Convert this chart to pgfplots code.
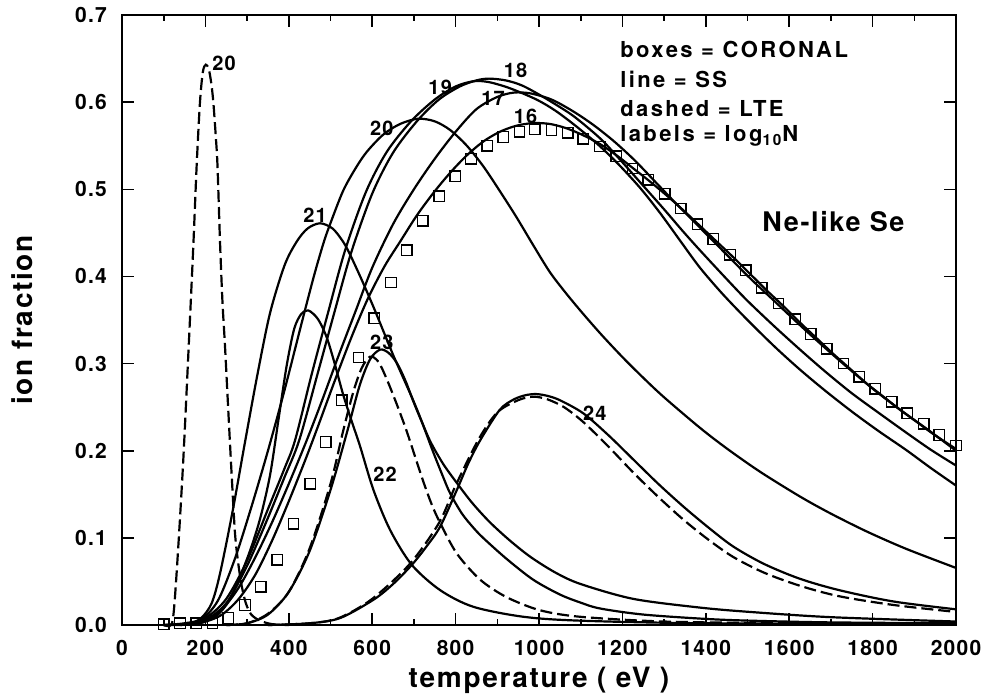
\documentclass[border=0pt]{standalone}
\usepackage{fontspec}
\setmainfont{TeX Gyre Heros}[LetterSpace=6]
\newfontfamily\wide{TeX Gyre Heros}[LetterSpace=11]
\usepackage{pgfplots}
\pgfplotsset{compat=1.18}

\begin{document}
\begin{tikzpicture}[font=\bfseries]
\begin{axis}[
  at={(61pt,34pt)}, anchor=south west,
  scale only axis, width=417pt, height=305pt,
  xmin=0, xmax=2000, ymin=0, ymax=0.7,
  xtick={0,200,400,600,800,1000,1200,1400,1600,1800,2000},
  minor x tick num=1,
  ytick={0,0.1,0.2,0.3,0.4,0.5,0.6,0.7},
  /pgf/number format/assume math mode=true,
  yticklabel style={/pgf/number format/fixed, /pgf/number format/fixed zerofill,
                    /pgf/number format/precision=1, xshift=-4pt},
  xticklabel style={/pgf/number format/1000 sep={}, yshift=-4pt},
  tick label style={font=\fontsize{10.5}{12}\selectfont\bfseries},
  major tick length=6pt, minor tick length=3pt,
  tick style={line width=0.8pt, black},
  axis line style={line width=0.9pt},
  xlabel={temperature ( eV )}, ylabel={ion fraction},
  label style={font=\fontsize{14}{16}\selectfont\bfseries},
  xlabel style={at={(axis description cs:0.5,0)}, anchor=center, yshift=-27.5pt},
  ylabel style={at={(axis description cs:-0.12,0.5)}, anchor=center},
  clip=false,
  every axis plot/.append style={line width=1.1pt, black},
]
% coronal
\addplot[only marks, mark=square, mark size=2.6pt, mark options={line width=0.65pt}] coordinates {
 (100,0.001) (139,0.002) (178,0.002) (217,0.002) (255,0.008) (295,0.023) (333,0.044)
 (372,0.075) (411,0.116) (451,0.162) (489,0.210) (527,0.258) (567,0.307) (605,0.352)
 (645,0.393) (683,0.430) (721,0.464) (761,0.492) (799,0.515) (837,0.535) (876,0.550)
 (914,0.560) (953,0.566) (990,0.569) (1030,0.568) (1069,0.565) (1106,0.558) (1146,0.549)
 (1185,0.538) (1224,0.524) (1262,0.511) (1302,0.495) (1340,0.478) (1380,0.460) (1418,0.443)
 (1458,0.425) (1496,0.407) (1534,0.387) (1574,0.369) (1614,0.351) (1652,0.334) (1690,0.317)
 (1730,0.300) (1768,0.285) (1806,0.271) (1846,0.256) (1883,0.243) (1923,0.231) (1960,0.218)
 (2000,0.206) };
% SS 16
\addplot[smooth] coordinates {
 (100,0) (150,0.001) (200,0.004) (240,0.012) (280,0.03) (320,0.058) (360,0.097) (400,0.142)
 (440,0.19) (470,0.228) (510,0.28) (550,0.33) (590,0.375) (630,0.412) (667,0.440) (707,0.47)
 (747,0.496) (787,0.519) (827,0.539) (867,0.555) (906,0.566) (946,0.573) (986,0.576)
 (1026,0.575) (1066,0.570) (1106,0.562) (1146,0.552) (1186,0.539) (1226,0.524) (1266,0.509)
 (1306,0.493) (1346,0.476) (1386,0.458) (1426,0.440) (1466,0.422) (1506,0.403) (1546,0.384)
 (1586,0.366) (1626,0.347) (1666,0.329) (1706,0.311) (1746,0.294) (1786,0.277) (1826,0.262)
 (1866,0.247) (1906,0.233) (1946,0.219) (2000,0.202) };
% SS 17
\addplot[smooth] coordinates {
 (100,0) (150,0.001) (200,0.006) (240,0.018) (280,0.043) (320,0.078) (360,0.118) (400,0.162)
 (443,0.212) (480,0.258) (520,0.31) (560,0.36) (600,0.41) (650,0.46) (700,0.5) (750,0.535)
 (800,0.566) (850,0.592) (900,0.606) (940,0.611) (980,0.610) (1030,0.603) (1080,0.590)
 (1130,0.574) (1180,0.555) (1230,0.533) (1280,0.508) (1330,0.483) (1386,0.456) (1450,0.425)
 (1506,0.398) (1566,0.371) (1626,0.344) (1686,0.318) (1746,0.293) (1806,0.269) (1866,0.247)
 (1933,0.224) (2000,0.200) };
% SS 18
\addplot[smooth] coordinates {
 (100,0) (150,0.001) (200,0.006) (250,0.025) (300,0.068) (350,0.123) (390,0.17) (425,0.212)
 (470,0.29) (510,0.36) (550,0.428) (600,0.495) (650,0.542) (707,0.578) (760,0.603) (810,0.618)
 (850,0.625) (880,0.627) (920,0.625) (960,0.619) (1010,0.606) (1074,0.587) (1114,0.572)
 (1154,0.555) (1200,0.531) (1250,0.504) (1300,0.477) (1343,0.453) (1386,0.43) (1450,0.397)
 (1500,0.372) (1566,0.342) (1626,0.316) (1686,0.291) (1750,0.266) (1813,0.244) (1880,0.221)
 (1940,0.201) (2000,0.183) };
% SS 19
\addplot[smooth] coordinates {
 (100,0) (150,0.002) (200,0.008) (250,0.03) (300,0.074) (350,0.133) (390,0.18) (415,0.212)
 (455,0.288) (495,0.36) (535,0.43) (585,0.497) (635,0.543) (693,0.578) (750,0.603) (800,0.618)
 (843,0.624) (880,0.623) (930,0.616) (994,0.603) (1040,0.590) (1090,0.572) (1140,0.552)
 (1186,0.531) (1240,0.503) (1290,0.473) (1340,0.44) (1386,0.41) (1440,0.38) (1500,0.35)
 (1566,0.319) (1626,0.293) (1686,0.269) (1750,0.245) (1813,0.223) (1880,0.201) (1940,0.18)
 (2000,0.160) };
% SS 20
\addplot[smooth] coordinates {
 (120,0) (150,0.001) (190,0.006) (230,0.028) (270,0.075) (310,0.135) (350,0.2) (390,0.27)
 (430,0.345) (460,0.4) (483,0.438) (499,0.46) (530,0.498) (560,0.524) (587,0.543) (627,0.563)
 (667,0.575) (710,0.581) (750,0.578) (787,0.568) (827,0.55) (867,0.526) (906,0.498) (946,0.468)
 (986,0.436) (1026,0.405) (1066,0.380) (1106,0.357) (1150,0.333) (1200,0.3075) (1250,0.2837)
 (1300,0.2613) (1386,0.2263) (1450,0.2027) (1530,0.1759) (1626,0.1474) (1700,0.1278)
 (1786,0.1073) (1880,0.0875) (2000,0.0655) };
% SS 21
\addplot[smooth] coordinates {
 (130,0) (160,0.001) (190,0.008) (215,0.025) (235,0.059) (265,0.13) (295,0.21) (325,0.288)
 (355,0.358) (390,0.413) (419,0.44) (445,0.455) (475,0.461) (505,0.455) (530,0.44) (547,0.425)
 (575,0.396) (603,0.365) (627,0.337) (651,0.309) (675,0.283) (699,0.257) (720,0.232) (745,0.2)
 (770,0.17) (787,0.151) (815,0.128) (842,0.112) (866,0.100) (922,0.076) (986,0.052)
 (1050,0.035) (1098,0.026) (1146,0.019) (1250,0.012) (1400,0.007) (1506,0.005) (1700,0.003)
 (2000,0.002) };
% SS 22
\addplot[smooth] coordinates {
 (140,0) (170,0.001) (195,0.003) (230,0.012) (260,0.031) (300,0.076) (330,0.12) (355,0.172)
 (375,0.235) (395,0.298) (413,0.34) (430,0.357) (447,0.361) (470,0.351) (491,0.330) (510,0.300)
 (530,0.265) (550,0.235) (571,0.205) (603,0.155) (643,0.109) (695,0.069) (763,0.040)
 (842,0.021) (962,0.0095) (1098,0.005) (1400,0.002) (2000,0.001) };
% SS 23
\addplot[smooth] coordinates {
 (250,0) (300,0.002) (350,0.012) (400,0.038) (450,0.085) (500,0.155) (540,0.222) (570,0.275)
 (595,0.305) (619,0.316) (640,0.312) (660,0.300) (680,0.28) (700,0.255) (720,0.232) (740,0.21)
 (770,0.185) (803,0.163) (840,0.14) (882,0.118) (930,0.097) (980,0.078) (1040,0.06)
 (1100,0.047) (1226,0.030) (1386,0.020) (1506,0.015) (1700,0.009) (2000,0.004) };
% SS 24
\addplot[smooth] coordinates {
 (350,0) (450,0.002) (523,0.008) (603,0.029) (650,0.047) (695,0.069) (730,0.09) (763,0.113)
 (803,0.155) (830,0.185) (859,0.212) (906,0.247) (940,0.259) (970,0.264) (994,0.265)
 (1020,0.263) (1050,0.258) (1106,0.243) (1166,0.218) (1226,0.19) (1286,0.162) (1346,0.136)
 (1406,0.112) (1466,0.09) (1540,0.07) (1626,0.053) (1720,0.04) (1850,0.027) (2000,0.018) };
% LTE 20
\addplot[smooth, dash pattern=on 6pt off 2.5pt] coordinates {
 (100,0) (118,0) (125,0.02) (135,0.09) (147,0.19) (159,0.31) (171,0.435) (179,0.527)
 (187,0.60) (194,0.635) (201,0.643) (208,0.638) (214,0.622) (219,0.60) (225,0.56) (229,0.527)
 (235,0.44) (241,0.37) (247,0.32) (255,0.245) (263,0.172) (271,0.105) (279,0.07) (287,0.045)
 (297,0.025) (310,0.012) (331,0.005) (360,0.001) (400,0) };
% LTE 23
\addplot[smooth, dash pattern=on 6pt off 2.5pt] coordinates {
 (250,0) (300,0.002) (350,0.013) (400,0.038) (450,0.088) (500,0.162) (530,0.222) (555,0.268)
 (575,0.295) (595,0.308) (615,0.302) (635,0.282) (660,0.252) (683,0.222) (705,0.19) (723,0.164)
 (743,0.138) (763,0.117) (803,0.082) (859,0.052) (922,0.032) (1002,0.017) (1098,0.0095)
 (1300,0.004) (1600,0.002) (2000,0.001) };
% LTE 24
\addplot[smooth, dash pattern=on 6pt off 2.5pt] coordinates {
 (350,0) (450,0.002) (520,0.008) (600,0.03) (690,0.07) (760,0.117) (800,0.16) (855,0.213)
 (900,0.244) (950,0.258) (986,0.262) (1020,0.259) (1060,0.25) (1106,0.233) (1166,0.205)
 (1226,0.175) (1286,0.147) (1346,0.121) (1406,0.098) (1466,0.078) (1540,0.06) (1626,0.045)
 (1720,0.033) (1850,0.023) (2000,0.015) };
% curve labels
\begin{scope}[every node/.style={font=\fontsize{10}{12}\selectfont\bfseries}]
\node at (axis cs:245,0.645) {20};
\node at (axis cs:763,0.617) {19};
\node at (axis cs:944,0.636) {18};
\node at (axis cs:890,0.604) {17};
\node at (axis cs:968,0.584) {16};
\node at (axis cs:623,0.570) {20};
\node at (axis cs:463,0.470) {21};
\node at (axis cs:623,0.324) {23};
\node at (axis cs:631,0.173) {22};
\node at (axis cs:1134,0.243) {24};
\end{scope}
\node[font=\fontsize{13.5}{16}\selectfont\bfseries] at (axis cs:1706,0.463) {Ne-like Se};
\begin{scope}[every node/.style={anchor=west, inner sep=0pt, font=\wide\fontsize{11}{13}\selectfont\bfseries}]
\node at (axis cs:1194,0.660) {boxes = CORONAL};
\node at (axis cs:1194,0.626) {line = SS};
\node at (axis cs:1194,0.593) {dashed = LTE};
\node at (axis cs:1194,0.561) {labels = log\textsubscript{10}N};
\end{scope}
\end{axis}
\pgfresetboundingbox
\path[use as bounding box] (0,0) rectangle (494pt,346.5pt);
\end{tikzpicture}
\end{document}
